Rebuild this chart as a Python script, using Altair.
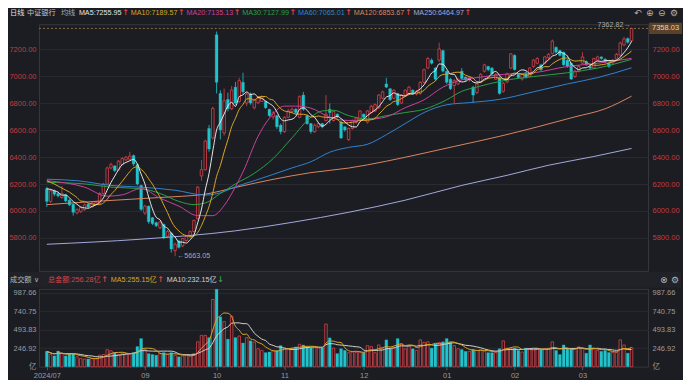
import altair as alt
import pandas as pd

# ---------------- data ----------------
OPEN = [
    6166, 6071, 6150, 6130, 6100, 6120, 6080, 6050, 5985, 5995,
    6010, 6050, 6030, 6050, 6055, 6130, 6200, 6320, 6335, 6305,
    6345, 6380, 6385, 6412, 6345, 6190, 5985, 6036, 5950, 5913,
    5875, 5900, 5812, 5835, 5705, 5776, 5740, 5780, 5805, 5846,
    5941, 6260, 6307, 6614, 6544, 7311, 6874, 6580, 6830, 6760,
    6921, 6815, 6957, 6803, 6870, 6768, 6805, 6815, 6815, 6756,
    6700, 6709, 6638, 6590, 6697, 6740, 6756, 6697, 6862, 6709,
    6650, 6590, 6626, 6650, 6673, 6756, 6673, 6720, 6661, 6626,
    6531, 6614, 6660, 6673, 6720, 6661, 6732, 6744, 6768, 6838,
    6945, 6909, 6838, 6874, 6803, 6862, 6874, 6898, 6870, 6874,
    6957, 7063, 7122, 7063, 7122, 7193, 7039, 6980, 6933, 6945,
    7040, 6995, 6975, 6921, 6880, 6957, 7039, 7075, 7063, 6980,
    6992, 6890, 6960, 7063, 7158, 7016, 6981, 7028, 7000, 7075,
    7099, 7087, 7099, 7140, 7170, 7217, 7193, 7181, 7122, 7099,
    7000, 7040, 7099, 7111, 7075, 7063, 7122, 7146, 7130, 7099,
    7100, 7130, 7160, 7235, 7283, 7266,
]
CLOSE = [
    6071, 6150, 6125, 6112, 6130, 6075, 6045, 5990, 6010, 6025,
    6045, 6030, 6060, 6062, 6130, 6200, 6320, 6345, 6300, 6370,
    6390, 6400, 6408, 6350, 6200, 6012, 6036, 5920, 5906, 5890,
    5918, 5800, 5846, 5717, 5752, 5729, 5795, 5811, 5846, 5929,
    6177, 6307, 6520, 6461, 6763, 6957, 6603, 6820, 6760, 6900,
    6803, 6969, 6886, 6870, 6803, 6827, 6839, 6851, 6768, 6709,
    6730, 6626, 6590, 6697, 6744, 6756, 6732, 6850, 6756, 6650,
    6590, 6638, 6650, 6626, 6720, 6732, 6740, 6700, 6543, 6602,
    6614, 6673, 6690, 6744, 6697, 6744, 6779, 6791, 6862, 6886,
    6921, 6827, 6898, 6791, 6862, 6898, 6921, 6874, 6890, 6957,
    7051, 7134, 7099, 6980, 7205, 7040, 6957, 6909, 6969, 6980,
    6985, 6975, 6995, 6862, 6945, 7016, 7087, 7051, 7020, 7016,
    6874, 6950, 7020, 7169, 7051, 6992, 7016, 6992, 7063, 7122,
    7134, 7051, 7146, 7165, 7264, 7181, 7158, 7087, 7075, 6981,
    7040, 7075, 7146, 7087, 7063, 7134, 7146, 7134, 7111, 7075,
    7122, 7165, 7250, 7280, 7255, 7358.03,
]
HIGH = [
    6180, 6165, 6160, 6140, 6185, 6125, 6090, 6055, 6020, 6035,
    6055, 6060, 6070, 6075, 6140, 6210, 6330, 6360, 6340, 6380,
    6400, 6410, 6440, 6420, 6350, 6195, 6045, 6040, 5955, 5920,
    5925, 5905, 5860, 5840, 5765, 5785, 5800, 5820, 5855, 5935,
    6185, 6378, 6530, 6640, 6775, 7335, 6898, 6910, 6880, 6930,
    6960, 6990, 7028, 6885, 6880, 6835, 6850, 6860, 6820, 6760,
    6745, 6715, 6650, 6705, 6760, 6770, 6765, 6860, 6886, 6715,
    6655, 6650, 6660, 6655, 6862, 6800, 6745, 6725, 6670, 6630,
    6620, 6680, 6700, 6750, 6725, 6750, 6790, 6800, 6870, 6895,
    6990, 6915, 6905, 6880, 6870, 6905, 6930, 6905, 6900, 6965,
    7060, 7145, 7135, 7070, 7252, 7200, 7045, 6990, 6980, 6990,
    7063, 7000, 7005, 6930, 6950, 7025, 7095, 7080, 7070, 7025,
    7000, 6960, 7030, 7175, 7165, 7025, 7025, 7035, 7070, 7130,
    7145, 7095, 7150, 7175, 7275, 7225, 7200, 7185, 7130, 7105,
    7050, 7085, 7181, 7120, 7080, 7140, 7155, 7150, 7135, 7105,
    7130, 7175, 7260, 7295, 7290, 7362.82,
]
LOW = [
    6030, 6060, 6110, 6100, 6090, 6065, 6035, 5965, 5975, 5985,
    6000, 6020, 6025, 6045, 6050, 6120, 6195, 6310, 6290, 6300,
    6340, 6370, 6380, 6335, 6190, 6000, 5970, 5905, 5895, 5880,
    5865, 5790, 5800, 5690, 5663.05, 5720, 5730, 5770, 5800, 5840,
    5935, 6225, 6300, 6440, 6530, 6874, 6532, 6560, 6740, 6750,
    6790, 6805, 6870, 6780, 6790, 6755, 6795, 6810, 6760, 6700,
    6680, 6610, 6570, 6580, 6690, 6730, 6720, 6690, 6745, 6640,
    6575, 6580, 6615, 6615, 6665, 6650, 6665, 6690, 6535, 6590,
    6520, 6605, 6650, 6665, 6690, 6650, 6725, 6735, 6760, 6830,
    6915, 6820, 6830, 6780, 6795, 6850, 6865, 6865, 6860, 6865,
    6950, 7055, 7090, 6970, 7110, 7030, 6945, 6900, 6803, 6935,
    6975, 6965, 6960, 6803, 6870, 6950, 7030, 7040, 7010, 6975,
    6865, 6880, 6950, 7055, 7045, 6985, 6970, 6985, 6995, 7065,
    7090, 7040, 7090, 7130, 7165, 7170, 7150, 7080, 7065, 6975,
    6990, 7030, 7090, 7080, 7050, 7055, 7115, 7125, 7100, 7065,
    7095, 7125, 7150, 7225, 7245, 7255,
]
VOLUME = [
    205, 167, 145, 210, 175, 145, 175, 175, 133, 111,
    103, 103, 110, 111, 154, 163, 227, 214, 188, 163,
    175, 175, 171, 188, 269, 376, 231, 175, 163, 154,
    175, 188, 163, 188, 154, 133, 145, 154, 145, 175,
    333, 419, 419, 389, 898, 1035, 667, 603, 368, 676,
    389, 410, 316, 389, 346, 330, 240, 218, 188, 197,
    218, 218, 282, 248, 240, 248, 265, 300, 290, 260,
    250, 255, 250, 255, 570, 385, 250, 175, 240, 218,
    188, 197, 190, 200, 190, 282, 269, 188, 291, 240,
    359, 240, 250, 376, 304, 240, 282, 240, 218, 359,
    325, 333, 248, 304, 325, 333, 376, 325, 282, 240,
    230, 205, 205, 231, 218, 231, 205, 188, 188, 188,
    240, 346, 248, 248, 248, 218, 197, 248, 240, 235,
    235, 230, 240, 248, 333, 218, 163, 291, 248, 235,
    240, 265, 248, 180, 291, 248, 218, 205, 218, 190,
    190, 190, 359, 291, 180, 256.28,
]

# moving-average values at the left edge (history before the window)
MA5_HEAD = [6165, 6160, 6150, 6140]
MA10_HEAD = [6225, 6212, 6200, 6185, 6170, 6155, 6140, 6120, 6100]

# longer moving averages (index, value)
MA20_PTS = [(0, 6225), (10, 6177), (16, 6110), (20, 6120), (25, 6166), (30, 6095),
            (35, 6036), (40, 5965), (44, 5965), (47, 6040), (50, 6180), (52, 6290),
            (56, 6555), (59, 6690), (63, 6780), (66, 6780), (70, 6765), (75, 6697),
            (80, 6673), (85, 6680), (90, 6700), (95, 6768), (100, 6827), (105, 6921),
            (110, 6975), (114, 6992), (121, 7016), (129, 7028), (138, 7075), (146, 7099),
            (155, 7135)]
MA30_PTS = [(0, 6213), (10, 6201), (17, 6177), (25, 6166), (30, 6130), (35, 6071),
            (39, 6047), (42, 6059), (46, 6130), (50, 6201), (55, 6280), (60, 6390),
            (65, 6544), (70, 6697), (73, 6744), (76, 6749), (80, 6709), (85, 6685),
            (90, 6709), (95, 6732), (100, 6756), (106, 6827), (110, 6890), (114, 6922),
            (121, 6969), (129, 7000), (138, 7028), (146, 7063), (155, 7128)]
MA60_PTS = [(0, 6236), (8, 6225), (17, 6190), (25, 6177), (34, 6154), (42, 6118),
            (46, 6135), (50, 6180), (55, 6225), (60, 6272), (65, 6320), (70, 6366),
            (75, 6437), (80, 6473), (85, 6496), (90, 6567), (95, 6650), (100, 6732),
            (106, 6790), (112, 6806), (120, 6830), (129, 6886), (138, 6945), (146, 6992),
            (155, 7065)]
MA120_PTS = [(0, 6047), (15, 6075), (30, 6100), (42, 6125), (50, 6175), (60, 6235),
             (70, 6285), (80, 6319), (90, 6370), (100, 6430), (108, 6480), (120, 6555),
             (130, 6625), (140, 6700), (148, 6760), (155, 6854)]
MA250_PTS = [(0, 5752), (25, 5790), (50, 5852), (65, 5915), (80, 5990), (95, 6080),
             (110, 6190), (122, 6265), (133, 6340), (145, 6405), (155, 6465)]

MONTH_IDX = [0, 26, 45, 63, 84, 106, 124, 142]
MONTH_LBL = ["2024/07", "09", "10", "11", "12", "01", "02", "03"]

PRICE_TICKS = [5800, 6000, 6200, 6400, 6600, 6800, 7000, 7200]
VOL_TICKS = [0, 246.92, 493.83, 740.75, 987.66]
LAST_PRICE = 7358.03
HIGH_IDX, HIGH_VAL = 155, 7362.82
LOW_IDX, LOW_VAL = 34, 5663.05

HEAD_MA = [("MA5:7255.95", "#e6e6e6"), ("MA10:7189.57", "#d9a521"),
           ("MA20:7135.13", "#c8409c"), ("MA30:7127.99", "#29a045"),
           ("MA60:7065.01", "#2f83d0"), ("MA120:6853.67", "#d98561"),
           ("MA250:6464.97", "#a3a9dc")]

# ---------------- styling ----------------
BG = "#1c1d22"
BAND = "#212227"
GRID = "#2a2b31"
BORDER = "#36383e"
UP = "#d9434b"
DOWN = "#22c3cc"
AXRED = "#c23a40"
GRAY = "#9a9b9f"
FONT = "Liberation Sans, DejaVu Sans, Noto Sans CJK SC, sans-serif"
ARROWFONT = "DejaVu Sans"
MA_COLORS = {"MA5": "#e6e6e6", "MA10": "#d9a521", "MA20": "#c8409c", "MA30": "#29a045",
             "MA60": "#2f83d0", "MA120": "#d98561", "MA250": "#a3a9dc"}

W, H1, H2 = 610, 247, 78
XDOM = [-0.76, 158.05]
YDOM = [5554, 7389]
VDOM = [0, 1040]

# ---------------- tables ----------------
n = len(CLOSE)
df = pd.DataFrame({"i": list(range(n)), "open": OPEN, "high": HIGH, "low": LOW,
                   "close": CLOSE, "vol": VOLUME})
ma5 = df["close"].rolling(5).mean().tolist()
for k, v in enumerate(MA5_HEAD):
    ma5[k] = v
ma10 = df["close"].rolling(10).mean().tolist()
for k, v in enumerate(MA10_HEAD):
    ma10[k] = v
vdf = pd.DataFrame({"i": list(range(n)),
                    "m5": df["vol"].rolling(5, min_periods=1).mean(),
                    "m10": df["vol"].rolling(10, min_periods=1).mean()})

lines = {
    "MA250": pd.DataFrame(MA250_PTS, columns=["i", "v"]),
    "MA120": pd.DataFrame(MA120_PTS, columns=["i", "v"]),
    "MA60": pd.DataFrame(MA60_PTS, columns=["i", "v"]),
    "MA30": pd.DataFrame(MA30_PTS, columns=["i", "v"]),
    "MA20": pd.DataFrame(MA20_PTS, columns=["i", "v"]),
    "MA10": pd.DataFrame({"i": list(range(n)), "v": ma10}),
    "MA5": pd.DataFrame({"i": list(range(n)), "v": ma5}),
}

ONE = pd.DataFrame({"k": [0]})


def label(x, y, s, color, size=7.2, align="left", font=FONT, weight="normal"):
    return alt.Chart(ONE).mark_text(align=align, baseline="middle", fontSize=size,
                                    font=font, fontWeight=weight, color=color).encode(
        x=alt.value(x), y=alt.value(y), text=alt.value(s))


def arrow(x, y, s, color):
    return label(x, y, s, color, size=8, font=ARROWFONT, weight="bold")


xs = alt.Scale(domain=XDOM, nice=False, zero=False)
ys = alt.Scale(domain=YDOM, nice=False, zero=False)
vs = alt.Scale(domain=VDOM, nice=False, zero=True)

PAX = alt.Axis(orient="left", values=PRICE_TICKS, format=".2f", labelColor=AXRED,
               labelFontSize=7.5, labelFont=FONT, grid=True, gridColor=GRID,
               domain=False, ticks=False, labelPadding=3, title=None)
PAX_R = alt.Axis(orient="right", values=PRICE_TICKS, format=".2f", labelColor=AXRED,
                 labelFontSize=7.5, labelFont=FONT, grid=False, domain=False,
                 ticks=False, labelPadding=4, title=None)
vexpr = "datum.value == 0 ? '亿' : format(datum.value, '.2f')"
VAX = alt.Axis(orient="left", values=VOL_TICKS, labelExpr=vexpr, labelColor=GRAY,
               labelFontSize=7.5, labelFont=FONT, grid=True, gridColor=GRID,
               domain=False, ticks=False, labelPadding=3, title=None)
VAX_R = alt.Axis(orient="right", values=VOL_TICKS, labelExpr=vexpr, labelColor=GRAY,
                 labelFontSize=7.5, labelFont=FONT, grid=False, domain=False,
                 ticks=False, labelPadding=4, title=None)
mexpr = "".join(f"datum.value == {k} ? '{s}' : " for k, s in zip(MONTH_IDX, MONTH_LBL)) + "''"
XAX = alt.Axis(values=MONTH_IDX, labelExpr=mexpr, labelColor=GRAY, labelFontSize=7.5,
               labelFont=FONT, tickColor="#55575d", tickSize=3, domain=False, grid=False,
               labelPadding=2, labelFlush=False, labelOverlap=False, labelBound=False,
               title=None)

X = alt.X("i:Q", scale=xs, axis=None)
XV = alt.X("i:Q", scale=xs, axis=XAX)
UPTEST = "datum.close >= datum.open"

# ---------------- price panel ----------------
base = alt.Chart(df)
wick = base.mark_rule(strokeWidth=0.8).encode(
    x=X, y=alt.Y("low:Q", scale=ys, axis=PAX), y2="high:Q",
    color=alt.condition(UPTEST, alt.value(UP), alt.value(DOWN)))
body_up = base.transform_filter(UPTEST).mark_bar(
    width=2.5, fill=BG, stroke=UP, strokeWidth=0.8).encode(
    x=X, y=alt.Y("open:Q", scale=ys, axis=PAX), y2="close:Q")
body_dn = base.transform_filter("datum.close < datum.open").mark_bar(
    width=2.8, fill=DOWN, stroke=DOWN, strokeWidth=0.3).encode(
    x=X, y=alt.Y("open:Q", scale=ys, axis=PAX), y2="close:Q")

ma_layers = []
for name in ["MA250", "MA120", "MA60", "MA30", "MA20", "MA10", "MA5"]:
    ma_layers.append(alt.Chart(lines[name]).mark_line(
        color=MA_COLORS[name], strokeWidth=1, interpolate="monotone").encode(
        x=X, y=alt.Y("v:Q", scale=ys, axis=PAX)))

hi_txt = alt.Chart(pd.DataFrame({"i": [HIGH_IDX], "p": [HIGH_VAL],
                                 "t": [f"{HIGH_VAL:.2f}→"]})).mark_text(
    align="right", baseline="bottom", dx=-1, dy=1, fontSize=7.2, font=FONT,
    color="#a9a9ad").encode(x=X, y=alt.Y("p:Q", scale=ys, axis=PAX), text="t:N")
lo_txt = alt.Chart(pd.DataFrame({"i": [LOW_IDX], "p": [LOW_VAL],
                                 "t": [f"←{LOW_VAL:.2f}"]})).mark_text(
    align="left", baseline="middle", dx=2, fontSize=7.2, font=FONT,
    color="#a9a9ad").encode(x=X, y=alt.Y("p:Q", scale=ys, axis=PAX), text="t:N")

HY = -11
head = [label(-29, HY, "日线", "#e2e2e2"), label(-12, HY, "中证银行", "#c4c4c4"),
        label(22, HY, "均线", "#aaaaaa")]
head_w = [43.5, 47.3, 47.3, 47.3, 47.3, 51.3, 51.3]
hx = 40
for (txt, col), hw in zip(HEAD_MA, head_w):
    head.append(label(hx, HY, txt, col))
    head.append(arrow(hx + hw, HY, "↑", UP))
    hx = hx + hw + 8.5
icon = "#b4b4b8"
head.append(label(596, HY, "↶", icon, size=9, font=ARROWFONT))
head.append(label(608, HY, "⊕", icon, size=9, font=ARROWFONT))
head.append(label(620, HY, "⊖", icon, size=9, font=ARROWFONT))
head.append(label(632, HY, "⚙", icon, size=9, font=ARROWFONT))

inner_price = alt.layer(wick, body_up, body_dn, *ma_layers, hi_txt, lo_txt, *head)

last_df = pd.DataFrame({"p": [LAST_PRICE], "lbl": [f"{LAST_PRICE:.2f}"],
                        "top": [LAST_PRICE + 42], "bot": [LAST_PRICE - 42]})
last_rule = alt.Chart(last_df).mark_rule(color="#8f6b3e", strokeDash=[2, 2],
                                         strokeWidth=1).encode(
    y=alt.Y("p:Q", scale=ys, axis=PAX_R))
last_box = alt.Chart(last_df).mark_rect(color="#5a4228").encode(
    x=alt.value(W + 1), x2=alt.value(W + 34),
    y=alt.Y("top:Q", scale=ys, axis=PAX_R), y2="bot:Q")
last_txt = alt.Chart(last_df).mark_text(align="left", baseline="middle", fontSize=7.5,
                                        font=FONT, color="#e8d4b0").encode(
    x=alt.value(W + 4), y=alt.Y("p:Q", scale=ys, axis=PAX_R), text="lbl:N")
right_price = alt.layer(last_rule, last_box, last_txt)

top = alt.layer(inner_price, right_price).resolve_scale(y="independent").properties(
    width=W, height=H1)

# ---------------- volume panel ----------------
band = alt.Chart(ONE).mark_rect(color=BAND).encode(
    x=alt.value(-30), x2=alt.value(W + 33), y=alt.value(-17), y2=alt.value(-1))
vbase = alt.Chart(df)
vbar_up = vbase.transform_filter(UPTEST).mark_bar(
    width=2.5, fill=BG, stroke=UP, strokeWidth=0.8).encode(
    x=XV, y=alt.Y("vol:Q", scale=vs, axis=VAX))
vbar_dn = vbase.transform_filter("datum.close < datum.open").mark_bar(
    width=2.8, fill=DOWN, stroke=DOWN, strokeWidth=0.3).encode(
    x=XV, y=alt.Y("vol:Q", scale=vs, axis=VAX))
vma10_l = alt.Chart(vdf).mark_line(color="#d0d0d0", strokeWidth=1,
                                   interpolate="monotone").encode(
    x=XV, y=alt.Y("m10:Q", scale=vs, axis=VAX))
vma5_l = alt.Chart(vdf).mark_line(color="#d9a521", strokeWidth=1,
                                  interpolate="monotone").encode(
    x=XV, y=alt.Y("m5:Q", scale=vs, axis=VAX))
VY = -9
vhead = [label(-29, VY, "成交额", "#b8b8b8"), label(-5, VY, "∨", "#b8b8b8", size=7),
         label(9, VY, "总金额:256.28亿", UP), arrow(62.5, VY, "↑", UP),
         label(72, VY, "MA5:255.15亿", "#d9a521"), arrow(118.5, VY, "↑", UP),
         label(128, VY, "MA10:232.15亿", "#d0d0d0"), arrow(178.5, VY, "↓", "#2aa44a"),
         label(622, VY, "⊗", icon, size=9, font=ARROWFONT),
         label(633, VY, "⚙", icon, size=9, font=ARROWFONT)]
inner_vol = alt.layer(band, vbar_up, vbar_dn, vma10_l, vma5_l, *vhead)
right_vol = alt.Chart(pd.DataFrame({"v": [0]})).mark_rule(opacity=0).encode(
    y=alt.Y("v:Q", scale=vs, axis=VAX_R))
vol = alt.layer(inner_vol, right_vol).resolve_scale(y="independent").properties(
    width=W, height=H2)

chart = alt.vconcat(top, vol, spacing=18, bounds="flush", padding=0).configure(
    background=BG, font=FONT).configure_view(stroke=BORDER, strokeWidth=1)

chart.save("out.html", embed_options={"renderer": "svg", "actions": False})
